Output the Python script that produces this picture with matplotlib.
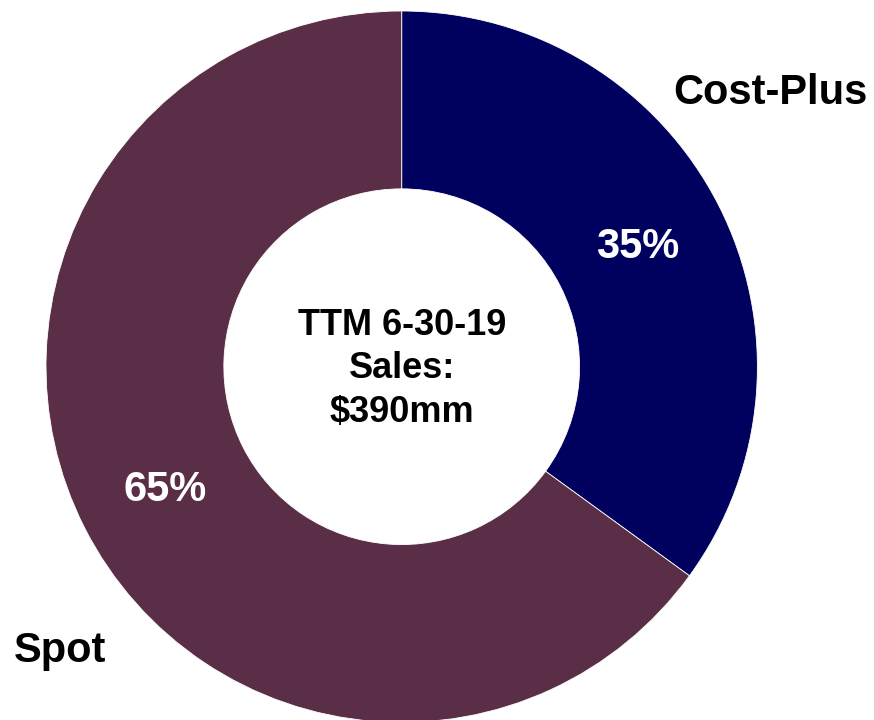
import matplotlib.pyplot as plt

labels = ["Cost-Plus", "Spot"]
shares = [35, 65]
colors = ["#00005E", "#5A2E47"]
center_lines = ["TTM 6-30-19", "Sales:", "$390mm"]

plt.rcParams['font.family'] = ['Liberation Sans', 'DejaVu Sans']

fig = plt.figure(figsize=(8.74, 7.2), dpi=100)
ax = fig.add_axes([0, 0, 1, 1])

cx, cy, r = 401.7, 366.7, 355.7
# y axis is inverted below, so angles are mirrored: start at -90, go counterclockwise
ax.pie(shares, colors=colors, startangle=-90, counterclock=True,
       center=(cx, cy), radius=r,
       wedgeprops=dict(width=r * 0.5, edgecolor='white', linewidth=0.6))
ax.set_xlim(0, 874)
ax.set_ylim(720, 0)
ax.set_aspect('equal')
ax.axis('off')

# percentage labels
ax.text(638, 247, f"{shares[0]}%", color='white', fontsize=30, fontweight='bold',
        ha='center', va='center')
ax.text(165, 490, f"{shares[1]}%", color='white', fontsize=30, fontweight='bold',
        ha='center', va='center')

# category labels
ax.text(770, 93, labels[0], color='black', fontsize=30, fontweight='bold',
        ha='center', va='center')
ax.text(60, 651, labels[1], color='black', fontsize=30, fontweight='bold',
        ha='center', va='center')

ax.text(cx, 369, "\n".join(center_lines), color='black', fontsize=26,
        fontweight='bold', ha='center', va='center', linespacing=1.32)

fig.savefig("out.png", dpi=100)
